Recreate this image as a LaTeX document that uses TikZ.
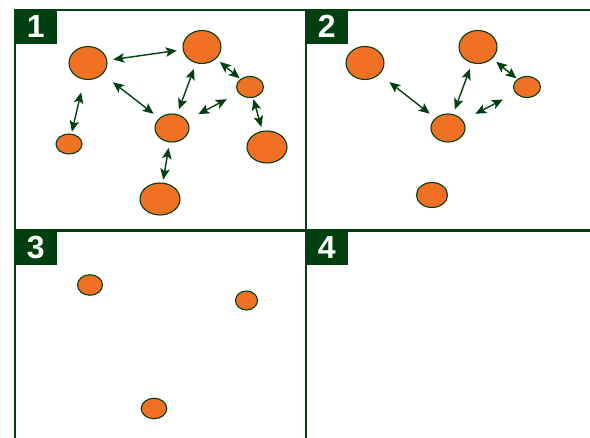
\documentclass[tikz,border=0pt]{standalone}
\usepackage{fontspec}
\newfontfamily\panelfont{Liberation Sans}
\usetikzlibrary{shapes.geometric,arrows.meta}
\definecolor{darkgreen}{RGB}{0,64,16}
\definecolor{agentorange}{RGB}{240,112,36}

\begin{document}
\begin{tikzpicture}[
    x=1pt, y=-1pt,
    frame/.style={draw=darkgreen, line width=2.6pt, line join=miter},
    tag/.style={fill=darkgreen, text=white, anchor=north west, minimum width=43pt, minimum height=35pt, inner sep=0pt, font=\panelfont\bfseries\fontsize{32}{32}\selectfont},
    agent/.style={ellipse, draw=darkgreen, line width=1.1pt, fill=agentorange, inner sep=0pt},
    bigagent/.style={agent, minimum width=38pt, minimum height=33pt},
    midagent/.style={agent, minimum width=34pt, minimum height=28pt},
    smallagent/.style={agent, minimum width=27pt, minimum height=21pt},
    dotagent/.style={agent, minimum width=25pt, minimum height=20.5pt},
    link/.style={draw=darkgreen, line width=1.4pt, {Stealth[length=11pt,width=9.5pt,inset=2.5pt]}-{Stealth[length=11pt,width=9.5pt,inset=2.5pt]}}
]
\useasboundingbox (0,0) rectangle (590,438);

% panel frames
\draw[frame] (15,438) -- (15,10) -- (590,10);
\draw[frame] (306,10) -- (306,438);
\draw[frame] (15,230.5) -- (590,230.5);

\node[tag] (tag1) at (14,9) {1};
\node[tag] (tag2) at (305,9) {2};
\node[tag] (tag3) at (14,230) {3};
\node[tag] (tag4) at (305,230) {4};

% panel 1: full network
\node[bigagent] (a1) at (88,63) {};
\node[bigagent] (b1) at (202,47) {};
\node[smallagent] (c1) at (250,87) {};
\node[midagent] (d1) at (172,128) {};
\node[smallagent, minimum width=26pt, minimum height=20pt] (e1) at (69,144) {};
\node[bigagent, minimum width=40pt, minimum height=32pt] (f1) at (267,147) {};
\node[bigagent, minimum width=40pt, minimum height=32pt] (g1) at (160,199) {};

\draw[link, shorten <=6pt, shorten >=6pt] (a1) -- (b1);
\draw[link, shorten <=13pt, shorten >=2pt] (a1) -- (e1);
\draw[link, shorten <=13pt, shorten >=7pt] (a1) -- (d1);
\draw[link, shorten <=6pt, shorten >=5pt] (b1) -- (d1);
\draw[link, shorten <=5pt, shorten >=1pt] (b1) -- (c1);
\draw[link, shorten <=13pt, shorten >=13pt] (c1) -- (d1);
\draw[link, shorten <=1.5pt, shorten >=4pt] (c1) -- (f1);
\draw[link, shorten <=5.5pt, shorten >=3pt] (d1) -- (g1);

% panel 2: two agents gone
\node[bigagent] (a2) at (365,63) {};
\node[bigagent] (b2) at (478,47) {};
\node[smallagent] (c2) at (527,87) {};
\node[midagent] (d2) at (448,128) {};
\node[agent, minimum width=31pt, minimum height=25pt] (g2) at (432,195) {};

\draw[link, shorten <=12.5pt, shorten >=7pt] (a2) -- (d2);
\draw[link, shorten <=6pt, shorten >=5pt] (b2) -- (d2);
\draw[link, shorten <=5pt, shorten >=1pt] (b2) -- (c2);
\draw[link, shorten <=14pt, shorten >=14pt] (c2) -- (d2);

% panel 3: isolated agents
\node[dotagent] (a3) at (90,285) {};
\node[dotagent, minimum width=22pt, minimum height=19pt] (c3) at (246.5,300.5) {};
\node[dotagent, minimum width=25.5pt] (g3) at (154,408.5) {};

\end{tikzpicture}
\end{document}
